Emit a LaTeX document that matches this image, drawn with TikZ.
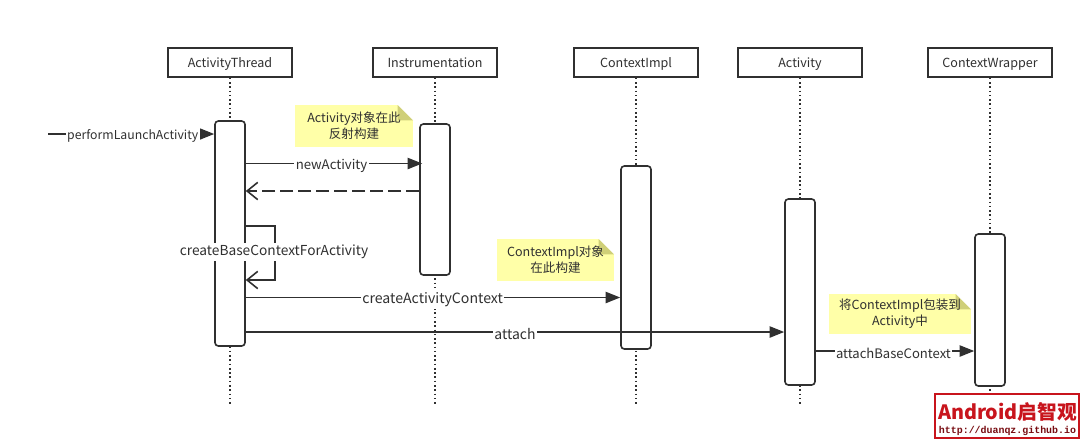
\documentclass[tikz,border=0pt]{standalone}
\usepackage{fontspec}
\setmainfont{Noto Sans CJK SC}
\newfontfamily\markmono{Liberation Mono}[Scale=1]
\usetikzlibrary{calc,arrows.meta}
\definecolor{inkgray}{HTML}{303030}
\definecolor{noteyellow}{HTML}{FFFFA8}
\definecolor{notefold}{HTML}{CFCF78}
\definecolor{markred}{HTML}{C8141C}
\tikzset{
  head/.style={ % image of a lifeline head
    draw=inkgray, line width=1.2pt, rectangle, fill=white, text=inkgray,
    minimum width=93pt, minimum height=21.75pt, inner sep=0pt,
    text height=9pt, text depth=2.2pt,
    font=\fontsize{9.4pt}{11pt}\selectfont
  },
  lifeline/.style={very thick, dotted, inkgray},
  bar/.style={ % image of an activation bar
    draw=inkgray, line width=1.2pt, rectangle, rounded corners=2.5pt, fill=white,
    minimum width=22.5pt, inner sep=0pt
  },
  note/.style={ % image of a note with its corner folded
    rectangle, fill=noteyellow, inner sep=0pt, text=inkgray, align=center,
    font=\fontsize{9.4pt}{12.2pt}\selectfont,
    path picture = {
      \fill[white]
      ($(path picture bounding box.north east)+(-11.5pt,0)$) --
      (path picture bounding box.north east) --
      ($(path picture bounding box.north east)+(0,-11.5pt)$) -- cycle;
      \fill[notefold]
      ($(path picture bounding box.north east)+(-11.5pt,0)$) --
      ($(path picture bounding box.north east)+(-11.5pt,-11.5pt)$) --
      ($(path picture bounding box.north east)+(0,-11.5pt)$) -- cycle;
    }
  },
  msg/.style={line width=1.2pt, inkgray, -{Triangle[length=11pt,width=8.5pt]}},
  back/.style={line width=1.2pt, inkgray, -{Straight Barb[length=8pt,width=13pt]}},
  lbl/.style={
    fill=white, inner xsep=1pt, inner ysep=1.5pt, text=inkgray, yshift=-1.5pt,
    font=\fontsize{#1}{11pt}\selectfont
  }
}
\begin{document}
\begin{tikzpicture}[x=0.75pt,y=-0.75pt]
  \useasboundingbox (0,0) rectangle (1084,440);

  % heads and lifelines
  \node[head] (thread) at (230,62.5) {ActivityThread};
  \node[head] (instr) at (435,62.5) {Instrumentation};
  \node[head] (impl) at (636,62.5) {ContextImpl};
  \node[head] (activity) at (800,62.5) {Activity};
  \node[head] (wrapper) at (990,62.5) {ContextWrapper};
  \foreach \n in {thread,instr,impl,activity,wrapper}
    \draw[lifeline] (\n.south) -- ++(0,328);

  % activation bars
  \node[bar,minimum height=168.75pt] (thread_bar) at (230,233.5) {};
  \node[bar,minimum height=113.25pt] (instr_bar) at (435,199.5) {};
  \node[bar,minimum height=137.25pt] (impl_bar) at (636,257.5) {};
  \node[bar,minimum height=139.5pt] (activity_bar) at (800,292) {};
  \node[bar,minimum height=114pt] (wrapper_bar) at (990,310) {};

  % notes
  \node[note,minimum width=88.5pt,minimum height=31.5pt] (note_a) at (354,126) {Activity对象在此\\反射构建};
  \node[note,minimum width=87.75pt,minimum height=31.5pt] (note_b) at (555.5,260) {ContextImpl对象\\在此构建};
  \node[note,minimum width=106.5pt,minimum height=30pt] (note_c) at (900,314) {将ContextImpl包装到\\Activity中};

  % messages
  \coordinate (start) at (48,134);
  \coordinate (self_a) at (275,226);
  \coordinate (self_b) at (275,280);
  \draw[msg] (start) -- node[lbl=9.2pt,pos=0.51] (perform_label) {performLaunchActivity} (start -| thread_bar.west);
  \draw[msg] (thread_bar.east |- 0,163.5) -- node[lbl=9.9pt,pos=0.486] (new_label) {newActivity} ($(instr_bar.west |- 0,163.5)+(3,0)$);
  \draw[back,dash pattern=on 10pt off 3.5pt] (instr_bar.west |- 0,191) -- (thread_bar.east |- 0,191);
  \draw[back] (thread_bar.east |- self_a) -- (self_a) -- node[lbl=10.3pt,pos=0.44,xshift=-0.75pt] (base_label) {createBaseContextForActivity} (self_b) -- (thread_bar.east |- self_b);
  \draw[msg] (thread_bar.east |- 0,297.5) -- node[lbl=10.6pt,pos=0.499] (create_label) {createActivityContext} (impl_bar.west |- 0,297.5);
  \draw[msg] (thread_bar.east |- 0,332) -- node[lbl=10.5pt,pos=0.5] (attach_label) {attach} (activity_bar.west |- 0,332);
  \draw[msg] (activity_bar.east |- 0,351) -- node[lbl=9.8pt,pos=0.49] (base_ctx_label) {attachBaseContext} (wrapper_bar.west |- 0,351);

  % stamp
  \node[draw=markred,line width=1.6pt,fill=white,minimum width=108pt,minimum height=32.5pt,inner sep=0pt] (stamp) at (1007,416) {};
  \node[text=markred,font=\fontsize{14.8pt}{15pt}\bfseries\selectfont,inner sep=0pt] (stamp_top) at (1007.5,412) {Android启智观};
  \node[text=markred!60!black,font=\markmono\fontsize{7.45pt}{9pt}\bfseries\selectfont,inner sep=0pt] (stamp_url) at (1007.5,431) {http://duanqz.github.io};
\end{tikzpicture}
\end{document}
